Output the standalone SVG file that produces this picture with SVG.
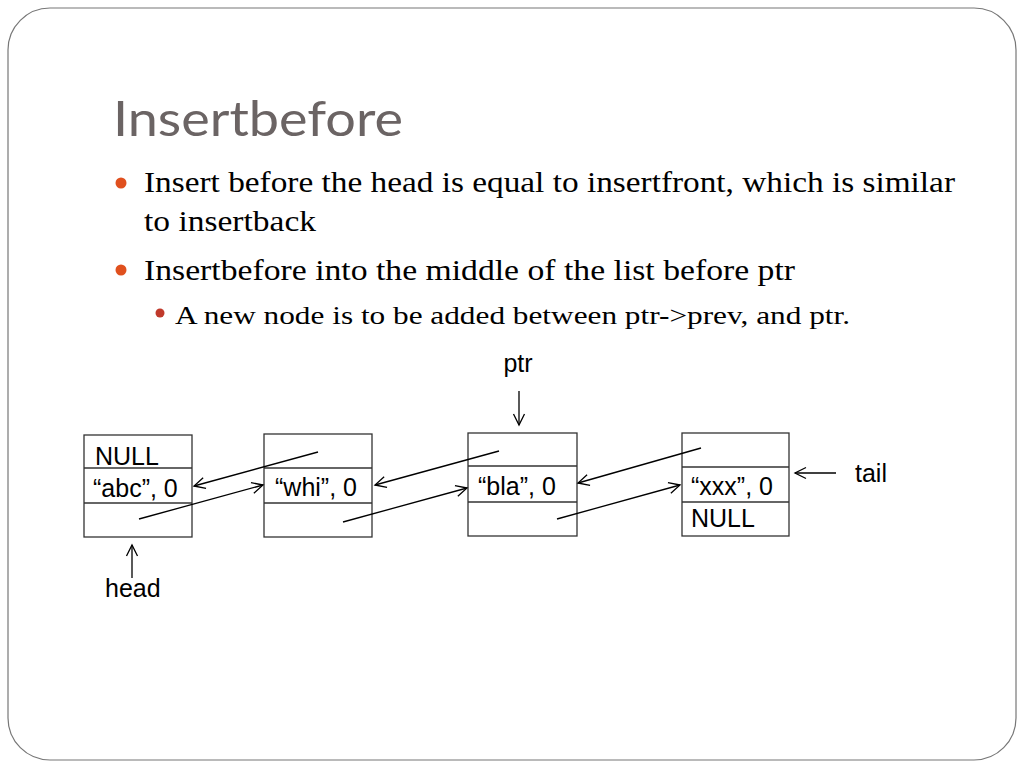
<svg xmlns="http://www.w3.org/2000/svg" width="1024" height="768" viewBox="0 0 1024 768">
<defs>
<marker id="ah" markerWidth="14" markerHeight="14" refX="12" refY="7" orient="auto" markerUnits="userSpaceOnUse">
<path d="M1,1.5 L12,7 L1,12.5" fill="none" stroke="#000" stroke-width="1.3"/>
</marker>
<style>
.box{fill:#fff;stroke:#333;stroke-width:1.3}
.div{stroke:#333;stroke-width:1.3}
.lbl{font-family:"Liberation Sans",Arial,sans-serif;font-size:25px;fill:#000}
.con{stroke:#000;stroke-width:1.3;fill:none;marker-end:url(#ah)}
.body{font-family:"Liberation Serif","Times New Roman",serif;fill:#000}
</style>
</defs>
<rect width="1024" height="768" fill="#fff"/>
<rect x="8" y="8" width="1008" height="752" rx="42" ry="42" fill="#fff" stroke="#777" stroke-width="1.2"/>
<text x="113" y="136" font-family="Lato,'Open Sans',sans-serif" font-size="49" fill="#6b6464" textLength="290" lengthAdjust="spacingAndGlyphs">Insertbefore</text>
<g id="bullets">
<circle cx="121" cy="183" r="5.5" fill="#e0501e"/>
<text class="body" x="144" y="192" font-size="29" textLength="811" lengthAdjust="spacingAndGlyphs">Insert before the head is equal to insertfront, which is similar</text>
<text class="body" x="144" y="231" font-size="29" textLength="172" lengthAdjust="spacingAndGlyphs">to insertback</text>
<circle cx="121" cy="270" r="5.5" fill="#e0501e"/>
<text class="body" x="144" y="280" font-size="29" textLength="651" lengthAdjust="spacingAndGlyphs">Insertbefore into the middle of the list before ptr</text>
<circle cx="160" cy="313" r="4.5" fill="#c0392b"/>
<text class="body" x="175" y="324" font-size="25" textLength="675" lengthAdjust="spacingAndGlyphs">A new node is to be added between ptr-&gt;prev, and ptr.</text>
</g>
<g id="node-abc">
<rect class="box" x="84" y="435" width="108" height="102"/>
<line class="div" x1="84" y1="468" x2="192" y2="468"/>
<line class="div" x1="84" y1="503" x2="192" y2="503"/>
<text class="lbl" x="95" y="465">NULL</text>
<text class="lbl" x="93" y="497">“abc”, 0</text>
</g>
<g id="node-whi">
<rect class="box" x="264" y="434" width="108" height="103"/>
<line class="div" x1="264" y1="468" x2="372" y2="468"/>
<line class="div" x1="264" y1="503" x2="372" y2="503"/>
<text class="lbl" x="275" y="496">“whi”, 0</text>
</g>
<g id="node-bla">
<rect class="box" x="468" y="433" width="109" height="103"/>
<line class="div" x1="468" y1="466" x2="577" y2="466"/>
<line class="div" x1="468" y1="502" x2="577" y2="502"/>
<text class="lbl" x="478" y="495">“bla”, 0</text>
</g>
<g id="node-xxx">
<rect class="box" x="682" y="433" width="107" height="103"/>
<line class="div" x1="682" y1="467" x2="789" y2="467"/>
<line class="div" x1="682" y1="502" x2="789" y2="502"/>
<text class="lbl" x="691" y="495">“xxx”, 0</text>
<text class="lbl" x="691" y="527">NULL</text>
</g>
<g id="labels">
<text class="lbl" x="518" y="372" text-anchor="middle">ptr</text>
<text class="lbl" x="855" y="482">tail</text>
<text class="lbl" x="105" y="597">head</text>
</g>
<g id="connectors">
<line class="con" x1="318" y1="452" x2="194" y2="486"/>
<line class="con" x1="139" y1="519" x2="263" y2="485"/>
<line class="con" x1="499" y1="451" x2="375" y2="485"/>
<line class="con" x1="343" y1="522" x2="467" y2="488"/>
<line class="con" x1="701" y1="448" x2="578" y2="483"/>
<line class="con" x1="557" y1="519" x2="680" y2="485"/>
<line class="con" x1="836" y1="473" x2="795" y2="473"/>
<line class="con" x1="519" y1="391" x2="519" y2="425"/>
<line class="con" x1="132" y1="578" x2="132" y2="545"/>
</g>
</svg>
